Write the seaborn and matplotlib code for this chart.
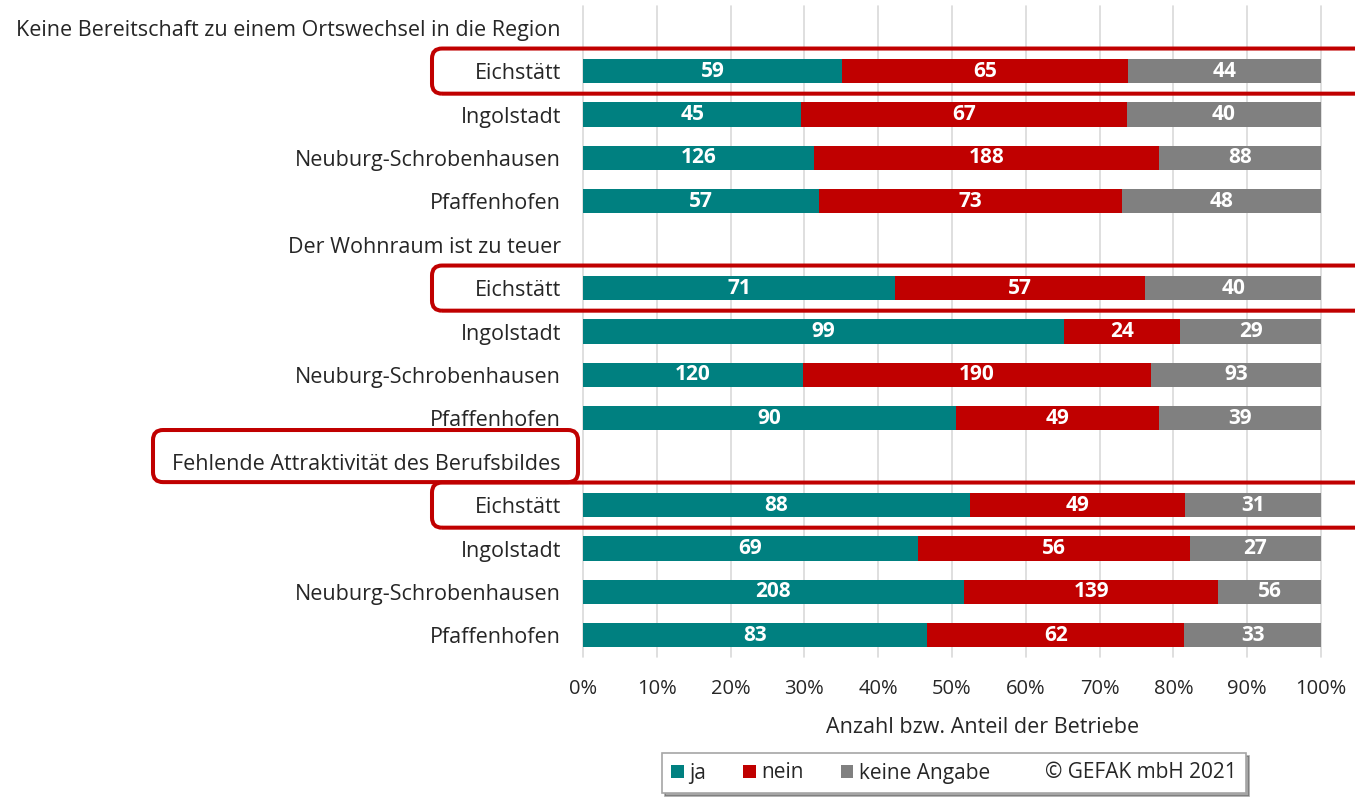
import numpy as np
import pandas as pd
import matplotlib
matplotlib.use("Agg")
import matplotlib.pyplot as plt
from matplotlib.patches import Patch, FancyBboxPatch
import seaborn as sns

# --- data -------------------------------------------------------------
groups = [
    "Keine Bereitschaft zu einem Ortswechsel in die Region",
    "Der Wohnraum ist zu teuer",
    "Fehlende Attraktivität des Berufsbildes",
]
regions = ["Eichstätt", "Ingolstadt", "Neuburg-Schrobenhausen", "Pfaffenhofen"]
ja = [[59, 45, 126, 57], [71, 99, 120, 90], [88, 69, 208, 83]]
nein = [[65, 67, 188, 73], [57, 24, 190, 49], [49, 56, 139, 62]]
keine_angabe = [[44, 40, 88, 48], [40, 29, 93, 39], [31, 27, 56, 33]]
series_labels = ["ja", "nein", "keine Angabe"]
x_ticks = np.arange(0, 1.01, 0.1)
x_label = "Anzahl bzw. Anteil der Betriebe"
credit = "© GEFAK mbH 2021"

colors = {"ja": "#008080", "nein": "#C00000", "keine Angabe": "#808080"}
frame_red = "#C00000"
text_col = "#262626"
fs = 15.5

# --- table ------------------------------------------------------------
records = []
order = []
display = []
for gi, g in enumerate(groups):
    order.append(f"{gi}|")
    display.append(g)
    for ri, r in enumerate(regions):
        key = f"{gi}|{r}"
        order.append(key)
        display.append(r)
        a, b, c = ja[gi][ri], nein[gi][ri], keine_angabe[gi][ri]
        tot = a + b + c
        records.append(dict(key=key, ja=a, nein=b, keine=c,
                            s_ja=a / tot, s_nein=(a + b) / tot, s_all=1.0))
df = pd.DataFrame(records)

# --- figure -----------------------------------------------------------
sns.set_theme(style="white")
plt.rcParams["font.family"] = ["Open Sans", "DejaVu Sans"]

W, H = 1355, 799
fig = plt.figure(figsize=(W / 100, H / 100), dpi=100)
ax = fig.add_axes([583 / W, 1 - 657 / H, (1321 - 583) / W, (657 - 6) / H])

bar_w = 0.56
for col, name in [("s_all", "keine Angabe"), ("s_nein", "nein"), ("s_ja", "ja")]:
    sns.barplot(data=df, x=col, y="key", order=order, orient="h",
                color=colors[name], saturation=1, width=bar_w,
                linewidth=0, ax=ax, zorder=3)

# segment value labels, centred in each segment
pos = {k: i for i, k in enumerate(order)}
for _, row in df.iterrows():
    y = pos[row["key"]]
    tot = row["ja"] + row["nein"] + row["keine"]
    left = 0.0
    for v in (row["ja"], row["nein"], row["keine"]):
        w = v / tot
        ax.text(left + w / 2, y, f"{v}", ha="center", va="center",
                color="white", fontsize=15, fontweight="bold", zorder=5)
        left += w

ax.set_xlim(0, 1)
ax.set_ylim(len(order) - 0.5, -0.5)
ax.set_xticks(x_ticks)
ax.set_xticklabels([f"{int(round(t * 100))}%" for t in x_ticks])
ax.set_yticks(range(len(order)))
ax.set_yticklabels(display)
ax.tick_params(axis="both", length=0, labelsize=fs, colors=text_col)
ax.tick_params(axis="x", labelsize=14.5, pad=16)
ax.tick_params(axis="y", pad=16)
ax.set_ylabel("")
ax.set_xlabel(x_label, fontsize=fs, color=text_col)
ax.xaxis.set_label_coords((983 - 583) / (1321 - 583), -(717 - 657) / (657 - 6))
for s in ax.spines.values():
    s.set_visible(False)
ax.grid(axis="x", color="#d9d9d9", linewidth=1.2, zorder=0)
ax.grid(axis="y", visible=False)
for gl in ax.get_xgridlines():
    gl.set_clip_on(False)
ax.set_axisbelow(True)

# --- highlight frames ---------------------------------------------------
fig.canvas.draw()
row_h = abs(ax.transData.transform((0, 1))[1] - ax.transData.transform((0, 0))[1])


def frame(x0, x1, row, dy_top, dy_bot):
    yc = ax.transData.transform((0, row))[1]
    y0 = yc - dy_bot * row_h
    y1 = yc + dy_top * row_h
    p = FancyBboxPatch((x0, y0), x1 - x0, y1 - y0,
                       boxstyle="round,pad=0,rounding_size=10",
                       transform=None, fill=False, edgecolor=frame_red,
                       linewidth=2.9, clip_on=False, zorder=10)
    fig.add_artist(p)


for gi in range(len(groups)):
    frame(432, 1400, pos[f"{gi}|Eichstätt"], 0.52, 0.52)
frame(153, 578, pos["2|"], 0.73, 0.47)

# --- legend -------------------------------------------------------------
handles = [Patch(facecolor=colors[n], edgecolor="none") for n in series_labels]
handles.append(Patch(facecolor="none", edgecolor="none"))
leg = fig.legend(handles, series_labels + [credit], ncol=4,
                 loc="center", bbox_to_anchor=(954 / W, 1 - 773 / H),
                 frameon=True, fancybox=False, shadow=True,
                 edgecolor="#a6a6a6", fontsize=15,
                 handlelength=0.6, handleheight=0.6, handletextpad=0.25,
                 columnspacing=1.8, borderpad=0.45)
leg.get_frame().set_linewidth(1.2)
for t in leg.get_texts():
    t.set_color(text_col)

fig.savefig("out.png", dpi=100)
